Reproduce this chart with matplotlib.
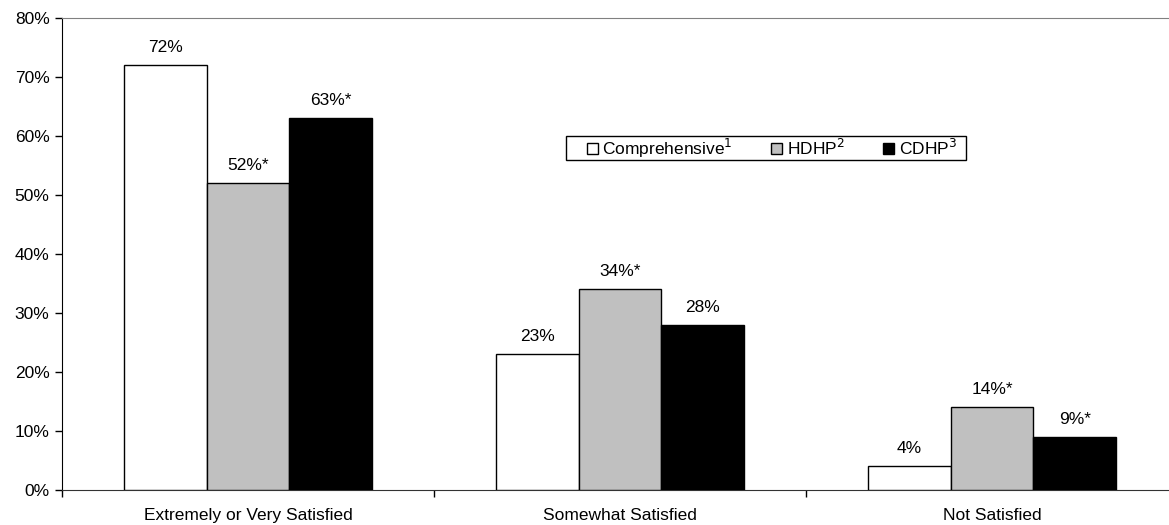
import matplotlib.pyplot as plt
from matplotlib.patches import Rectangle
import numpy as np

plt.rcParams['font.family'] = ['Liberation Sans', 'DejaVu Sans']

categories = ['Extremely or Very Satisfied', 'Somewhat Satisfied', 'Not Satisfied']
series = ['Comprehensive', 'HDHP', 'CDHP']
superscripts = ['1', '2', '3']
values = {
    'Comprehensive': [72, 23, 4],
    'HDHP': [52, 34, 14],
    'CDHP': [63, 28, 9],
}
labels = {
    'Comprehensive': ['72%', '23%', '4%'],
    'HDHP': ['52%*', '34%*', '14%*'],
    'CDHP': ['63%*', '28%', '9%*'],
}
colors = ['white', '#C0C0C0', 'black']
fs = 12.5

fig = plt.figure(figsize=(11.69, 5.25), dpi=100)
# axes run past the right edge of the figure, as in the cropped original
ax = fig.add_axes([62 / 1169, 35 / 525, 1116 / 1169, 472 / 525])

x = np.arange(len(categories))
width = 0.223
for i, s in enumerate(series):
    xs = x + (i - 1) * width
    bars = ax.bar(xs, values[s], width, color=colors[i], edgecolor='black',
                  linewidth=1, label=s + '$^{' + superscripts[i] + '}$', zorder=3)
    for b, t in zip(bars, labels[s]):
        ax.text(b.get_x() + b.get_width() / 2, b.get_height() + 1.7, t,
                ha='center', va='bottom', fontsize=fs)

ax.set_xlim(-0.5, 2.5)
ax.set_ylim(0, 80)
ax.set_yticks(range(0, 81, 10))
ax.set_yticklabels([f'{v}%' for v in range(0, 81, 10)], fontsize=fs)
ax.tick_params(axis='y', direction='out', length=5, width=1, pad=4)

ax.set_xticks(x)
ax.set_xticklabels(categories, fontsize=fs)
ax.tick_params(axis='x', which='major', length=0, pad=13)
ax.set_xticks([-0.5, 0.5, 1.5], minor=True)
ax.tick_params(axis='x', which='minor', direction='out', length=5, width=1)

ax.spines['right'].set_visible(False)
ax.spines['top'].set_color('#808080')
ax.spines['bottom'].set_color('#333333')
ax.spines['left'].set_color('black')

# legend box drawn separately so the inner padding can be wider than tall
ax.add_patch(Rectangle((0.4516, 0.6992), 0.3584, 0.0508, transform=ax.transAxes,
                       facecolor='white', edgecolor='black', linewidth=1, zorder=4))
leg = ax.legend(loc='center', bbox_to_anchor=(0.636, 0.7246), ncol=3, frameon=False,
                fontsize=fs, handlelength=0.65, handleheight=0.65, handletextpad=0.25,
                columnspacing=2.2, borderpad=0.05, borderaxespad=0)
leg.set_zorder(5)

fig.savefig('out.png', dpi=100)
